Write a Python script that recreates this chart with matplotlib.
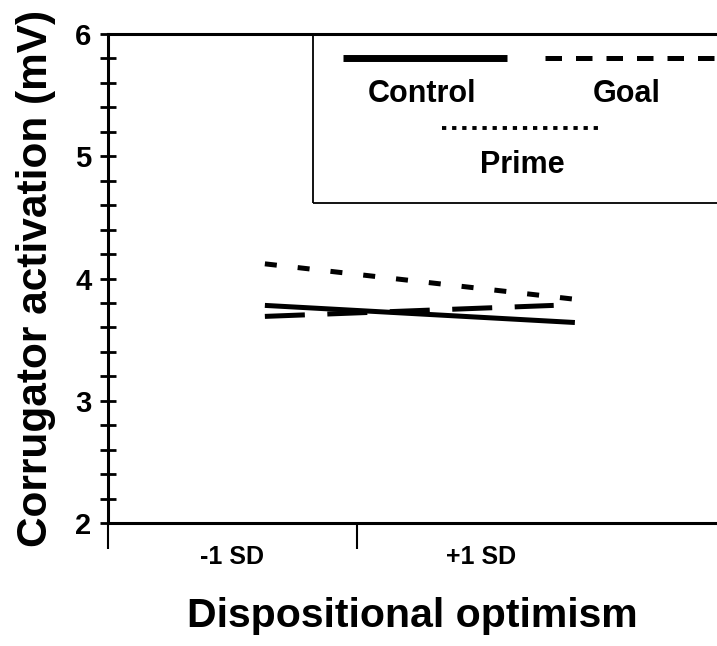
import matplotlib.pyplot as plt
import matplotlib.ticker as mticker

plt.rcParams['font.family'] = ['Liberation Sans', 'DejaVu Sans']
plt.rcParams['font.weight'] = 'bold'

# data (x in category units: -1 SD centred at 0.5, +1 SD at 1.5)
x_pos = [0.63, 1.875]
control = [3.78, 3.64]
goal = [4.12, 3.83]
prime = [3.69, 3.78]
tick_labels = ['-1 SD', '+1 SD']
tick_pos = [0.5, 1.5]

W, H = 717, 646
fig = plt.figure(figsize=(W / 100, H / 100), dpi=100)
ax = fig.add_axes([108 / W, 1 - 523 / H, 1 - 108 / W, (523 - 34) / H])

ax.plot(x_pos, control, color='black', lw=3.6, solid_capstyle='butt')
ax.plot(x_pos, goal, color='black', lw=3.6, dashes=(2.4, 4.2), solid_capstyle='butt')
ax.plot([x_pos[0], 1.79], prime, color='black', lw=3.6, dashes=(8, 4.5))

ax.set_xlim(0, (W - 108) / 249)
ax.set_ylim(2, 6)

ax.yaxis.set_major_locator(mticker.MultipleLocator(1))
ax.yaxis.set_minor_locator(mticker.MultipleLocator(0.2))
ax.yaxis.set_major_formatter(mticker.FormatStrFormatter('%d'))
ax.tick_params(axis='y', which='both', direction='inout', length=12, width=2,
               labelsize=21, pad=6)
ax.set_xticks([0, 1])
ax.set_xticklabels(['', ''])
ax.set_xticks(tick_pos, minor=True)
ax.set_xticklabels(tick_labels, minor=True)
ax.tick_params(axis='x', which='major', direction='out', length=19, width=1.5)
ax.tick_params(axis='x', which='minor', length=0, labelsize=18, pad=16)

for s in ['left', 'bottom', 'top']:
    ax.spines[s].set_linewidth(2.2)
ax.spines['right'].set_visible(False)

ax.set_ylabel('Corrugator activation (mV)', fontsize=30.5, fontweight='bold', labelpad=14)
ax.set_xlabel('Dispositional optimism', fontsize=29.5, fontweight='bold', labelpad=20)


# hand-built legend box (figure pixel coordinates)
def fx(px):
    return px / W


def fy(py):
    return 1 - py / H


box = plt.Rectangle((fx(313), fy(203)), fx(W + 5) - fx(313), fy(35) - fy(203),
                    transform=fig.transFigure, fill=False, lw=1.3, color='black')
fig.add_artist(box)
fig.add_artist(plt.Line2D([fx(343), fx(507)], [fy(58), fy(58)], transform=fig.transFigure,
                          color='black', lw=5, solid_capstyle='butt'))
fig.add_artist(plt.Line2D([fx(545), fx(W)], [fy(58), fy(58)], transform=fig.transFigure,
                          color='black', lw=3.6, dashes=(3.3, 2.8), dash_capstyle='butt'))
fig.add_artist(plt.Line2D([fx(442), fx(602)], [fy(128), fy(128)], transform=fig.transFigure,
                          color='black', lw=2.8, dashes=(1.1, 1.5), dash_capstyle='butt'))
fig.text(fx(422), fy(94), 'Control', ha='center', va='center', fontsize=22)
fig.text(fx(627), fy(94), 'Goal', ha='center', va='center', fontsize=22)
fig.text(fx(522), fy(165), 'Prime', ha='center', va='center', fontsize=22)

fig.savefig('out.png', dpi=100)
